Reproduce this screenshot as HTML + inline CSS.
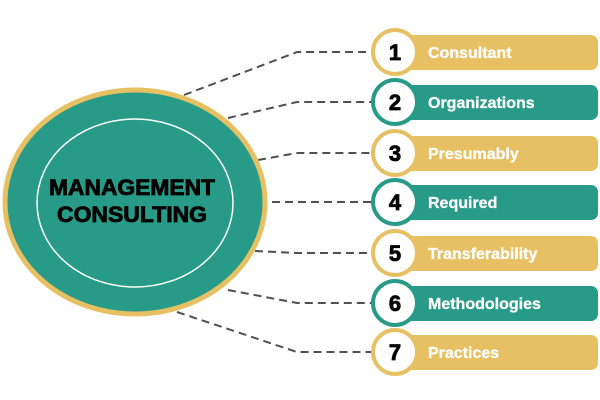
<!DOCTYPE html>
<html><head><style>
body{margin:0;width:600px;height:400px;background:#fff;overflow:hidden}
svg{display:block}
</style></head><body>
<svg width="600" height="400" viewBox="0 0 600 400" font-family="Liberation Sans, sans-serif">
<g stroke="#505050" stroke-width="2" stroke-dasharray="8,5" fill="none">
<polyline points="184,95 297,52 372,52"/>
<polyline points="228,118 297,102 372,102"/>
<polyline points="258,160 297,153 372,153"/>
<polyline points="272,202 372,202"/>
<polyline points="255,251 297,253 372,253"/>
<polyline points="228,290 297,303 372,303"/>
<polyline points="177,312 297,352 372,352"/>
</g>
<ellipse cx="135" cy="202" rx="130" ry="112" fill="#279a88" stroke="#e8c064" stroke-width="5"/>
<ellipse cx="135" cy="203" rx="98" ry="84" fill="none" stroke="#fff" stroke-width="1.5"/>
<g font-weight="bold" stroke="#000" stroke-width="0.8" fill="#000" font-size="22">
<text x="132" y="195" text-anchor="middle" textLength="166" lengthAdjust="spacingAndGlyphs">MANAGEMENT</text>
<text x="132" y="222" text-anchor="middle" textLength="150" lengthAdjust="spacingAndGlyphs">CONSULTING</text>
</g>
<g font-weight="bold">
<g><rect x="405" y="35" width="193" height="35" rx="7" fill="#e8c064"/><circle cx="395" cy="52" r="22" fill="#fff" stroke="#e8c064" stroke-width="4"/><text x="395" y="60" text-anchor="middle" font-size="22" fill="#000" stroke="#000" stroke-width="0.8">1</text><text x="428" y="58" font-size="16" fill="#fff" stroke="#fff" stroke-width="0.3">Consultant</text></g>
<g><rect x="405" y="85" width="193" height="35" rx="7" fill="#279a88"/><circle cx="395" cy="102" r="22" fill="#fff" stroke="#279a88" stroke-width="4"/><text x="395" y="110" text-anchor="middle" font-size="22" fill="#000" stroke="#000" stroke-width="0.8">2</text><text x="428" y="108" font-size="16" fill="#fff" stroke="#fff" stroke-width="0.3">Organizations</text></g>
<g><rect x="405" y="136" width="193" height="35" rx="7" fill="#e8c064"/><circle cx="395" cy="153" r="22" fill="#fff" stroke="#e8c064" stroke-width="4"/><text x="395" y="161" text-anchor="middle" font-size="22" fill="#000" stroke="#000" stroke-width="0.8">3</text><text x="428" y="159" font-size="16" fill="#fff" stroke="#fff" stroke-width="0.3">Presumably</text></g>
<g><rect x="405" y="185" width="193" height="35" rx="7" fill="#279a88"/><circle cx="395" cy="202" r="22" fill="#fff" stroke="#279a88" stroke-width="4"/><text x="395" y="210" text-anchor="middle" font-size="22" fill="#000" stroke="#000" stroke-width="0.8">4</text><text x="428" y="208" font-size="16" fill="#fff" stroke="#fff" stroke-width="0.3">Required</text></g>
<g><rect x="405" y="236" width="193" height="35" rx="7" fill="#e8c064"/><circle cx="395" cy="253" r="22" fill="#fff" stroke="#e8c064" stroke-width="4"/><text x="395" y="261" text-anchor="middle" font-size="22" fill="#000" stroke="#000" stroke-width="0.8">5</text><text x="428" y="259" font-size="16" fill="#fff" stroke="#fff" stroke-width="0.3">Transferability</text></g>
<g><rect x="405" y="286" width="193" height="35" rx="7" fill="#279a88"/><circle cx="395" cy="303" r="22" fill="#fff" stroke="#279a88" stroke-width="4"/><text x="395" y="311" text-anchor="middle" font-size="22" fill="#000" stroke="#000" stroke-width="0.8">6</text><text x="428" y="309" font-size="16" fill="#fff" stroke="#fff" stroke-width="0.3">Methodologies</text></g>
<g><rect x="405" y="335" width="193" height="35" rx="7" fill="#e8c064"/><circle cx="395" cy="352" r="22" fill="#fff" stroke="#e8c064" stroke-width="4"/><text x="395" y="360" text-anchor="middle" font-size="22" fill="#000" stroke="#000" stroke-width="0.8">7</text><text x="428" y="358" font-size="16" fill="#fff" stroke="#fff" stroke-width="0.3">Practices</text></g>
</g>
</svg>
</body></html>
